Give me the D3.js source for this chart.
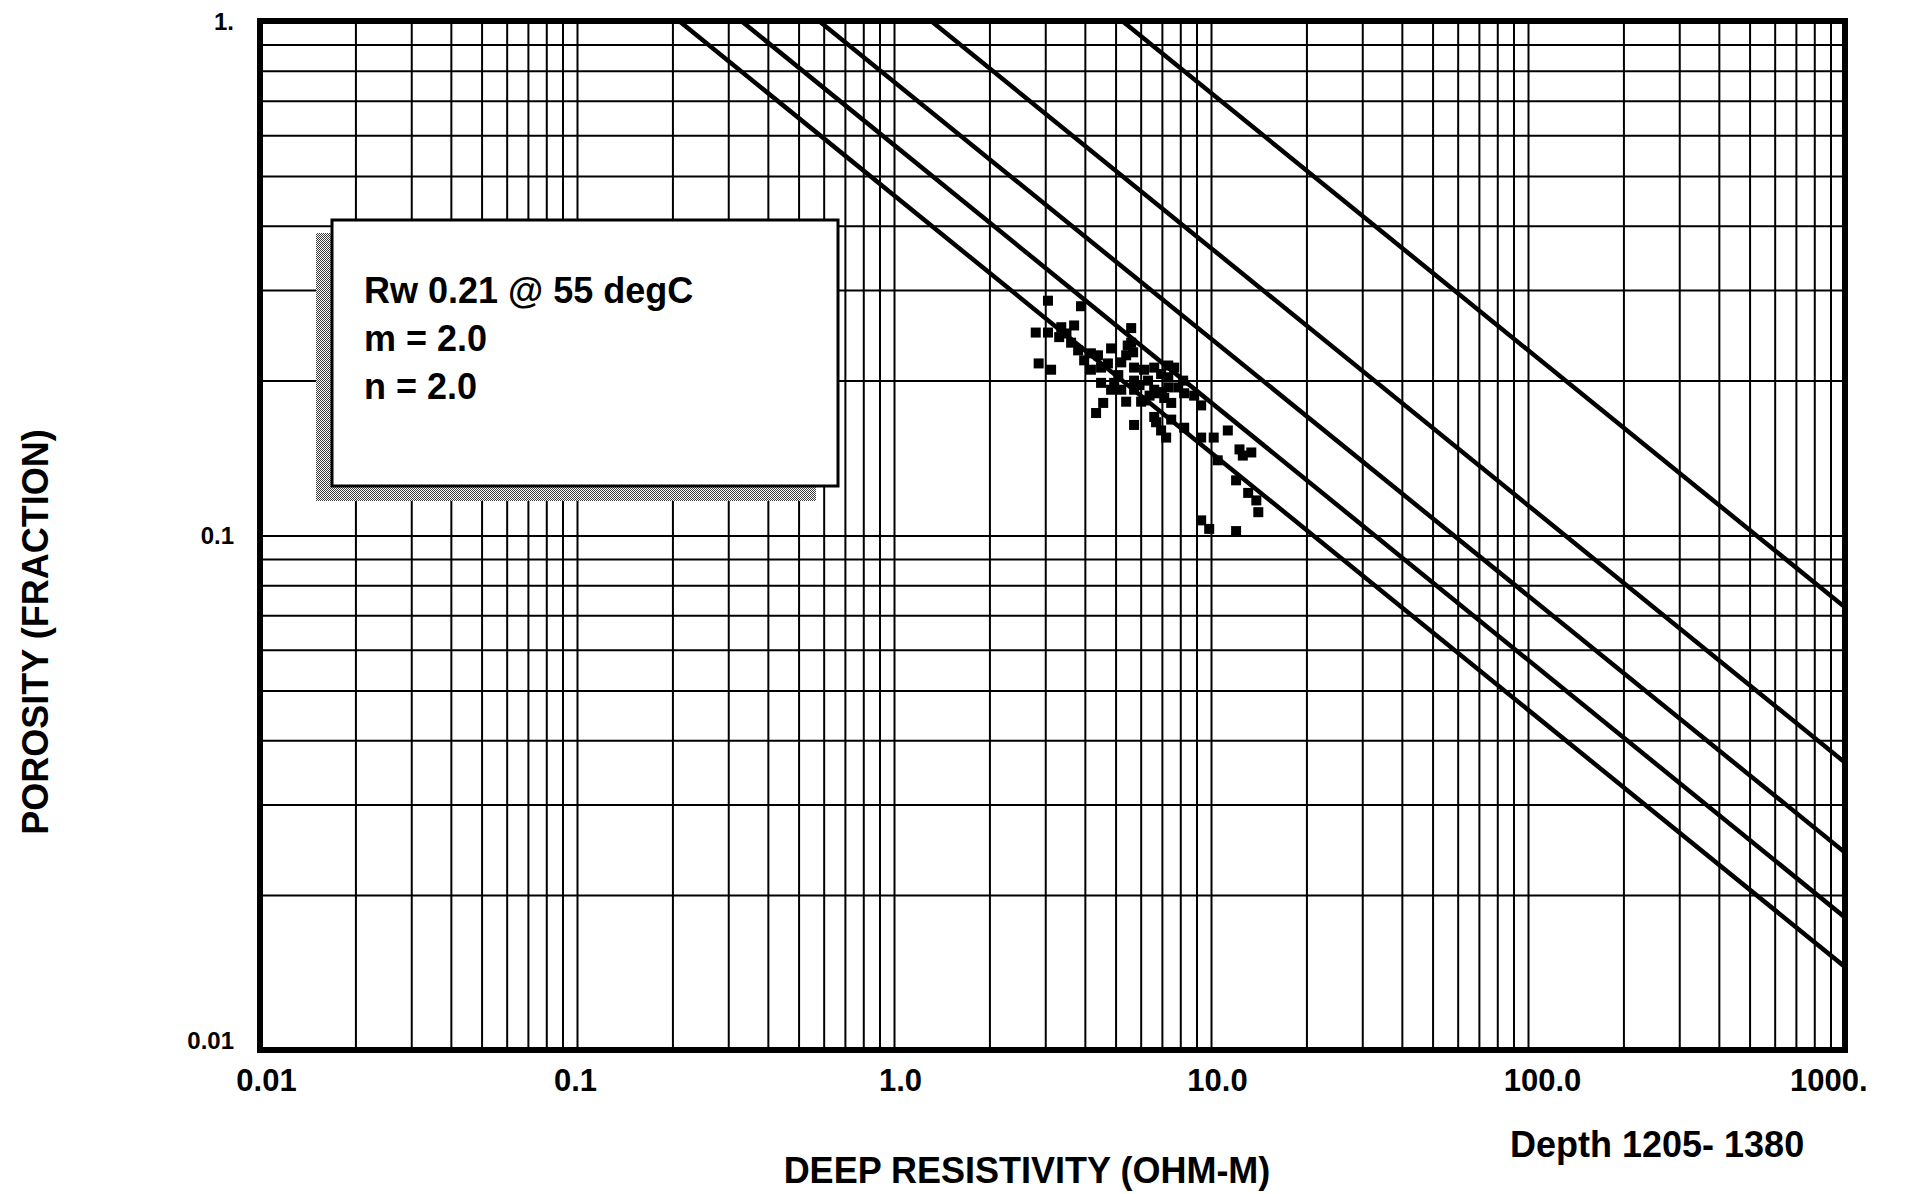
<!DOCTYPE html>
<html>
<head>
<meta charset="utf-8">
<script src="https://cdn.jsdelivr.net/npm/d3@7"></script>
<style>
  html, body { margin: 0; padding: 0; background: #fff; }
  svg { display: block; font-family: "Liberation Sans", Arial, Helvetica, sans-serif; font-weight: bold; }
</style>
</head>
<body>
<svg id="chart" width="1905" height="1194"></svg>
<script>
// Log data, depth 1205-1380: deep resistivity (ohm-m) against porosity (fraction)
const resistivity = [
  3.06, 3.89, 2.80, 3.06, 3.37, 3.70, 3.32, 3.62, 3.81, 2.86,
  3.13, 3.98, 4.40, 4.84, 5.46, 5.60, 5.60, 4.18, 4.50, 4.73,
  5.21, 5.68, 5.72, 6.15, 6.62, 7.33, 7.65, 4.50, 5.21, 4.84,
  5.72, 5.72, 6.15, 5.40, 6.62, 7.33, 8.17, 7.33, 7.88, 8.23,
  7.12, 7.49, 4.57, 4.34, 6.02, 6.81, 6.62, 7.49, 5.72, 6.71,
  6.96, 7.22, 8.23, 9.31, 8.85, 9.31, 10.2, 11.3, 10.5, 12.3,
  13.4, 12.6, 12.0, 13.1, 13.9, 14.1, 9.31, 9.87, 12.0,
  5.10, 6.33, 6.96, 5.40, 4.18, 6.40, 3.50, 4.95, 5.95, 7.00
];
const porosity = [
  0.286, 0.279, 0.248, 0.248, 0.254, 0.256, 0.243, 0.237, 0.229, 0.216,
  0.210, 0.219, 0.224, 0.231, 0.234, 0.253, 0.237, 0.210, 0.212, 0.216,
  0.217, 0.227, 0.212, 0.210, 0.212, 0.214, 0.212, 0.198, 0.192, 0.192,
  0.200, 0.192, 0.183, 0.182, 0.192, 0.203, 0.200, 0.194, 0.194, 0.189,
  0.185, 0.181, 0.181, 0.173, 0.182, 0.189, 0.170, 0.168, 0.164, 0.166,
  0.160, 0.155, 0.162, 0.179, 0.187, 0.155, 0.155, 0.160, 0.140, 0.147,
  0.145, 0.143, 0.128, 0.121, 0.117, 0.111, 0.107, 0.103, 0.102,
  0.205, 0.200, 0.206, 0.224, 0.226, 0.187, 0.247, 0.198, 0.196, 0.190
];

// Water saturation lines (Rw 0.21, m = n = 2); straight on log-log paper,
// each runs from the top edge (porosity 1.0) to the right edge (1000 ohm-m)
const swValues     = [1.0, 0.8, 0.6, 0.4, 0.2];
const swRtAtTop    = [0.21, 0.33, 0.58, 1.31, 5.25];
const swPhiAtRight = [0.0145, 0.0181, 0.0242, 0.0362, 0.0725];

// Axis labelling
const xTickValues = [0.01, 0.1, 1, 10, 100, 1000];
const xTickLabels = ["0.01", "0.1", "1.0", "10.0", "100.0", "1000."];
const yTickValues = [0.01, 0.1, 1];
const yTickLabels = ["0.01", "0.1", "1."];
const noteLines = ["Rw 0.21 @ 55 degC", "m = 2.0", "n = 2.0"];

(function draw() {
  const svg = d3.select("#chart");
  svg.append("rect").attr("width", 1905).attr("height", 1194).attr("fill", "#fff");

  const pLeft = 260, pRight = 1845, pTop = 21, pBottom = 1050;
  const x = d3.scaleLog().domain([0.01, 1000]).range([pLeft, pRight]);
  const y = d3.scaleLog().domain([0.01, 1]).range([pBottom, pTop]);

  // Log grid: every 1..9 multiple of each decade
  const gx = svg.append("g").attr("transform", `translate(0,${pBottom})`)
    .call(d3.axisBottom(x).tickValues(x.ticks()).tickSize(-(pBottom - pTop)).tickFormat(""));
  const gy = svg.append("g").attr("transform", `translate(${pLeft},0)`)
    .call(d3.axisLeft(y).tickValues(y.ticks()).tickSize(-(pRight - pLeft)).tickFormat(""));
  [gx, gy].forEach(g => {
    g.select(".domain").remove();
    g.selectAll(".tick line").attr("stroke", "#000").attr("stroke-width", 2);
  });

  // Tick labels; the last x label sits pulled in against the right edge
  const lastX = xTickValues[xTickValues.length - 1];
  const lx = svg.append("g").attr("transform", `translate(0,${pBottom})`)
    .call(d3.axisBottom(x).tickValues(xTickValues).tickSize(0).tickFormat((d, i) => xTickLabels[i]));
  lx.select(".domain").remove();
  lx.selectAll("text")
    .attr("y", 41).attr("dy", null)
    .attr("text-anchor", d => d === lastX ? "end" : "middle")
    .attr("dx", d => d === lastX ? 22 : (d === 100 ? 14 : (d === 0.1 ? -2 : 6)))
    .attr("fill", "#000").style("font-size", "31px").style("font-family", "inherit").style("font-weight", "bold");

  const ly = svg.append("g").attr("transform", `translate(${pLeft},0)`)
    .call(d3.axisLeft(y).tickValues(yTickValues).tickSize(0).tickFormat((d, i) => yTickLabels[i]));
  ly.select(".domain").remove();
  ly.selectAll("text")
    .attr("x", -26).attr("dy", d => d === 0.01 ? "-2px" : "8px")
    .attr("fill", "#000").style("font-size", "24px").style("font-family", "inherit").style("font-weight", "bold");

  // Parameter box with dithered drop shadow
  const defs = svg.append("defs");
  const pat = defs.append("pattern").attr("id", "dither")
    .attr("width", 2).attr("height", 2).attr("patternUnits", "userSpaceOnUse");
  pat.append("rect").attr("width", 2).attr("height", 2).attr("fill", "#fff");
  pat.append("rect").attr("x", 0).attr("y", 0).attr("width", 1).attr("height", 1).attr("fill", "#3a3a3a");
  pat.append("rect").attr("x", 1).attr("y", 1).attr("width", 1).attr("height", 1).attr("fill", "#3a3a3a");

  const box = { x: 332, y: 220, w: 506, h: 266 };
  svg.append("rect").attr("x", box.x - 16).attr("y", box.y + 13)
    .attr("width", box.w - 6).attr("height", box.h + 2)
    .attr("fill", "url(#dither)").attr("shape-rendering", "crispEdges");
  svg.append("rect").attr("x", box.x).attr("y", box.y).attr("width", box.w).attr("height", box.h)
    .attr("fill", "#fff").attr("stroke", "#000").attr("stroke-width", 3);
  svg.append("g").selectAll("text").data(noteLines).join("text")
    .attr("x", box.x + 32).attr("y", (d, i) => box.y + 83 + i * 48)
    .attr("font-size", 36).attr("fill", "#000").text(d => d);

  // Saturation lines
  defs.append("clipPath").attr("id", "plotClip").append("rect")
    .attr("x", pLeft).attr("y", pTop).attr("width", pRight - pLeft).attr("height", pBottom - pTop);
  const line = d3.line().x(d => x(d[0])).y(d => y(d[1]));
  svg.append("g").attr("clip-path", "url(#plotClip)")
    .selectAll("path").data(swValues.map((sw, i) => [[swRtAtTop[i], 1], [1000, swPhiAtRight[i]]]))
    .join("path")
    .attr("d", line).attr("fill", "none").attr("stroke", "#000").attr("stroke-width", 4.5);

  // Data points
  const pts = resistivity.map((r, i) => [r, porosity[i]]);
  const ms = 10;
  svg.append("g").selectAll("rect").data(pts).join("rect")
    .attr("x", d => x(d[0]) - ms / 2).attr("y", d => y(d[1]) - ms / 2)
    .attr("width", ms).attr("height", ms).attr("fill", "#000");

  // Plot frame
  svg.append("rect").attr("x", pLeft).attr("y", pTop).attr("width", pRight - pLeft).attr("height", pBottom - pTop)
    .attr("fill", "none").attr("stroke", "#000").attr("stroke-width", 6);

  // Titles
  svg.append("text").attr("x", 1027).attr("y", 1183).attr("text-anchor", "middle")
    .attr("font-size", 36).attr("fill", "#000").text("DEEP RESISTIVITY (OHM-M)");
  svg.append("text").attr("transform", "translate(48,632) rotate(-90)").attr("text-anchor", "middle")
    .attr("font-size", 36).attr("fill", "#000").text("POROSITY (FRACTION)");
  svg.append("text").attr("x", 1510).attr("y", 1157)
    .attr("font-size", 36).attr("fill", "#000").text("Depth 1205- 1380");
})();
</script>
</body>
</html>
